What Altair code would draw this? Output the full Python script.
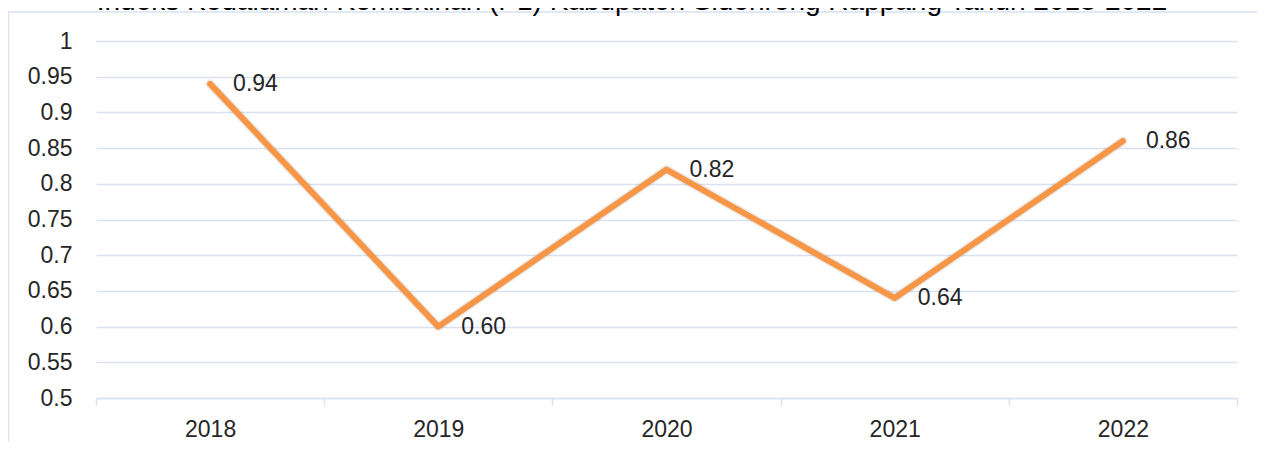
import altair as alt
import pandas as pd

years = ["2018", "2019", "2020", "2021", "2022"]
values = [0.94, 0.60, 0.82, 0.64, 0.86]
labels = ["0.94", "0.60", "0.82", "0.64", "0.86"]
y_ticks = [0.5, 0.55, 0.6, 0.65, 0.7, 0.75, 0.8, 0.85, 0.9, 0.95, 1.0]
title_text = "Indeks Kedalaman Kemiskinan (P1) Kabupaten Sidenreng Rappang Tahun 2018-2022"

df = pd.DataFrame({"year": years, "value": values, "label": labels})

FONT = "Liberation Sans"
TXT = "#262626"
GRID = "#D9E2F3"
ORANGE = "#F79646"

x_enc = alt.X(
    "year:O",
    bandPosition=0.5,
    scale=alt.Scale(type="band", paddingInner=0, paddingOuter=0),
    axis=alt.Axis(
        title=None, labelAngle=0, labelFont=FONT, labelFontSize=23, labelColor=TXT,
        domainColor=GRID, domainWidth=1.5, tickColor=GRID, tickWidth=1.5, tickSize=7,
        tickBand="extent", labelPadding=13, grid=False,
    ),
)
y_enc = alt.Y(
    "value:Q",
    scale=alt.Scale(domain=[0.5, 1.0], nice=False, zero=False),
    axis=alt.Axis(
        title=None, values=y_ticks, format=".2~f", labelFont=FONT,
        labelFontSize=23, labelColor=TXT, domain=False, ticks=False, labelPadding=24,
        gridColor=GRID, gridWidth=1.5, labelOverlap=False,
    ),
)

base = alt.Chart(df).encode(x=x_enc, y=y_enc)

shadow = base.mark_line(color="#000000", strokeOpacity=0.08, strokeWidth=9,
                        strokeCap="round", strokeJoin="round")

line = base.mark_line(color=ORANGE, strokeWidth=6, strokeCap="round", strokeJoin="round")

text = base.mark_text(
    align="left", baseline="middle", dx=23, fontSize=23, font=FONT, color=TXT
).encode(text="label:N")

dummy = alt.Chart(pd.DataFrame({"t": [title_text]}))

title = dummy.mark_text(
    align="center", baseline="alphabetic", fontSize=28, font=FONT, color="#000000"
).encode(x=alt.value(536), y=alt.value(-31), text="t:N")

border_v = dummy.mark_rule(color=GRID, strokeWidth=1.5).encode(
    x=alt.value(-87.5), y=alt.value(-29), y2=alt.value(420)
)
border_h = dummy.mark_rule(color=GRID, strokeWidth=1.5).encode(
    x=alt.value(-88), x2=alt.value(1200), y=alt.value(-29)
)

chart = alt.layer(shadow, line, text, border_v, border_h, title).properties(
    width=1141,
    height=357,
    padding={"left": 88, "top": 33, "right": 20, "bottom": 44},
    autosize=alt.AutoSizeParams(type="none"),
).configure_view(stroke=None)

chart.save("out.html", embed_options={"renderer": "svg", "actions": False})
